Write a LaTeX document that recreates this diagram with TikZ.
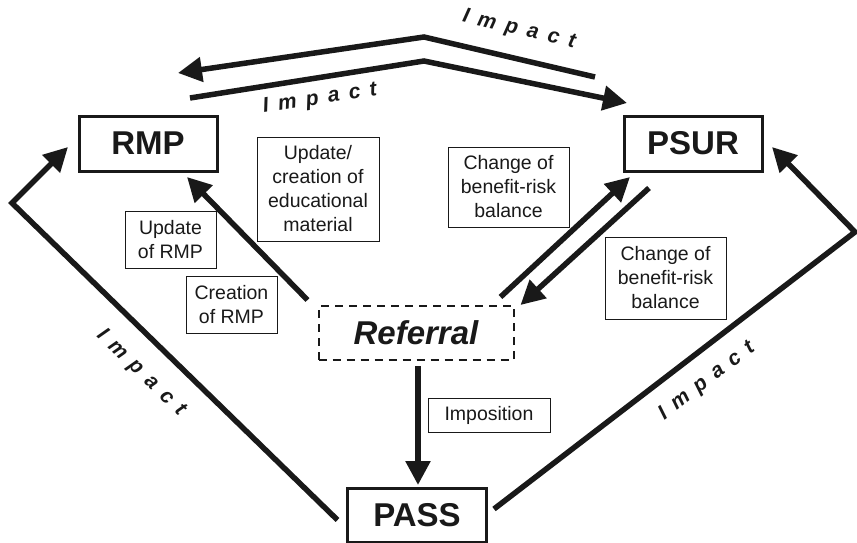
\documentclass[tikz,border=0pt]{standalone}
\usepackage{fontspec}
\setmainfont{Liberation Sans}
\usetikzlibrary{arrows.meta,calc}

% widely spaced bold italic "Impact" used on the big arrows
\newcommand{\impactword}{{\bfseries\itshape\fontsize{21}{21}\selectfont I\kern9.5pt m\kern9.5pt p\kern9.5pt a\kern9.5pt c\kern9.5pt t}}

\begin{document}
\begin{tikzpicture}[x=1pt,y=-1pt,
  mainbox/.style={draw=black!90, line width=3pt, minimum width=138pt, minimum height=55pt,
    inner sep=0pt, outer sep=0pt, text=black!90, font=\fontsize{33}{33}\selectfont\bfseries},
  notebox/.style={draw=black!90, line width=0.9pt, inner sep=0pt, outer sep=0pt,
    align=center, text=black!90, font=\fontsize{19.5}{24}\selectfont},
  flow/.style={draw=black!90, line width=5.5pt, line join=miter,
    -{Triangle[length=24pt,width=24pt]}},
  impactlbl/.style={inner sep=0pt, text=black!90}
]
\useasboundingbox (0,0) rectangle (857,543);

% main boxes
\node[mainbox] (rmp)  at (148,143.5) {RMP};
\node[mainbox] (psur) at (693,143.5) {PSUR};
\node[mainbox, minimum width=139pt, minimum height=54pt] (pass) at (417,515) {PASS};
\node[draw=black!90, line width=2pt, dash pattern=on 8pt off 6pt, minimum width=195pt,
  minimum height=54pt, inner sep=0pt, outer sep=0pt, text=black!90,
  font=\fontsize{33}{33}\selectfont\bfseries\itshape] (ref) at (416,333) {Referral};

% note boxes
\node[notebox, minimum width=122pt, minimum height=104pt] (edu) at (318,189)
  {Update/\\creation of\\educational\\material};
\node[notebox, minimum width=91pt, minimum height=57pt] (upd) at (170.5,239.5)
  {Update\\of RMP};
\node[notebox, minimum width=91pt, minimum height=57pt] (cre) at (231.5,304.5)
  {Creation\\of RMP};
\node[notebox, minimum width=121pt, minimum height=80pt] (chl) at (508.5,187)
  {Change of\\benefit-risk\\balance};
\node[notebox, minimum width=121pt, minimum height=82pt] (chr) at (665.5,278)
  {Change of\\benefit-risk\\balance};
\node[notebox, minimum width=122pt, minimum height=34pt] (imp) at (489,415)
  {Imposition};

% bend points of the long arrows
\coordinate (apexA) at (424,37);
\coordinate (apexB) at (424,61);
\coordinate (cornerL) at (12,203);
\coordinate (cornerR) at (855,232);

% PSUR <-> RMP over the top
\draw[flow] ($(psur.north west)+(-29,-39)$) -- (apexA) -- ($(rmp.north)+(30,-43)$);
\draw[flow] ($(rmp.north)+(42,-18)$) -- (apexB) -- ($(psur.north west)+(3,-13)$);

% Referral links
\draw[flow] ($(ref.north west)+(-11,-6)$) -- ($(rmp.south)+(39,6)$);
\draw[flow] ($(ref.north east)+(-13,-9)$) -- ($(psur.south west)+(6,6)$);
\draw[flow] ($(psur.south)+(-44,17)$) -- ($(ref.north east)+(7,-1)$);
\draw[flow] ($(ref.south)+(2,6)$) -- ($(ref.south|-pass.north)+(2,-3)$);

% PASS to RMP and PSUR round the sides
\draw[flow] ($(pass.west)+(-10,5)$) -- (cornerL) -- ($(rmp.west)+(-11,3.5)$);
\draw[flow] ($(pass.east)+(7.5,-6)$) -- (cornerR) -- ($(psur.east)+(10,3.5)$);

% Impact labels
\node[impactlbl, rotate=-13] (imptop) at (519,30) {\impactword};
\node[impactlbl, rotate=9] (impbot) at (320,99) {\impactword};
\node[impactlbl, rotate=-44] (impleft) at (141,373) {\impactword};
\node[impactlbl, rotate=37.5] (impright) at (707,381) {\impactword};
\end{tikzpicture}
\end{document}
